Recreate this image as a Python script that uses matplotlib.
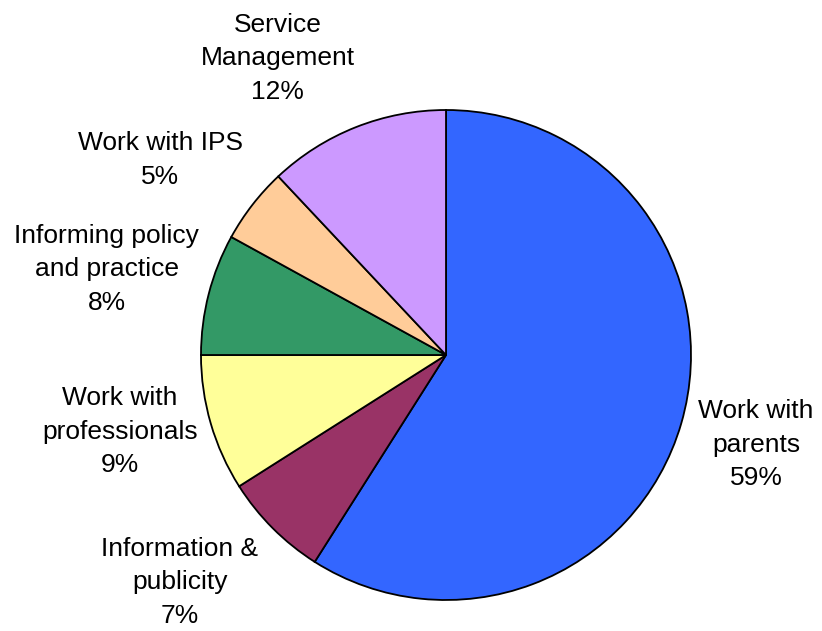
import matplotlib.pyplot as plt

# slices, clockwise from 12 o'clock
categories = ['Work with\nparents', 'Information &\npublicity', 'Work with\nprofessionals',
              'Informing policy\nand practice', 'Work with IPS', 'Service\nManagement']
shares = [59, 7, 9, 8, 5, 12]
colours = ['#3366FF', '#993366', '#FFFF99', '#339966', '#FFCC99', '#CC99FF']

# label centres, in units of the pie radius
label_pos = [(1.265, -0.367), (-1.086, -0.927), (-1.331, -0.314),
             (-1.384, 0.350), (-1.167, 0.796), (-0.686, 1.212)]

W, H = 822, 631
cx, cy, R = 446, 355, 245  # pie centre and radius in pixels

fig = plt.figure(figsize=(W / 100, H / 100), dpi=100)
ax = fig.add_axes([0, 0, 1, 1])

ax.pie(shares, colors=colours, startangle=90, counterclock=False,
       wedgeprops={'edgecolor': 'black', 'linewidth': 1.3})

for name, v, (x, y) in zip(categories, shares, label_pos):
    ax.text(x, y, name + '\n' + str(v) + '%', ha='center', va='center',
            fontsize=19, family='Liberation Sans', linespacing=1.5)

ax.set_xlim(-cx / R, (W - cx) / R)
ax.set_ylim(-(H - cy) / R, cy / R)
ax.set_aspect('auto')
ax.axis('off')

plt.savefig('out.png', dpi=100, facecolor='white')
